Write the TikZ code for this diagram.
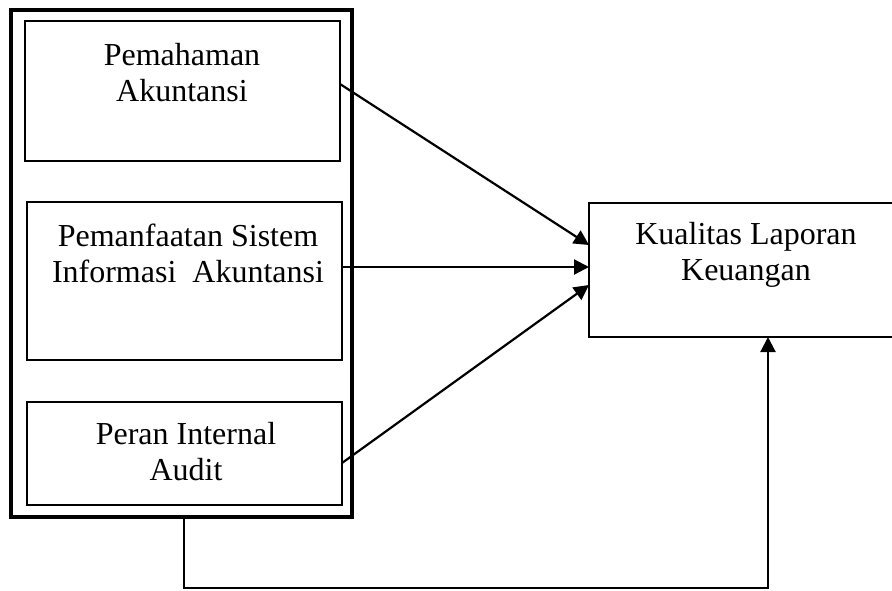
\documentclass[tikz,border=0pt]{standalone}
\usepackage{fontspec}
\setmainfont{Liberation Serif}
\usetikzlibrary{arrows.meta, calc}

\tikzset{
  box/.style={draw, line width=1.8pt, inner sep=0pt, outer sep=0pt},
  txt/.style={align=center, inner sep=0pt, font=\fontsize{32}{36}\selectfont},
  arr/.style={line width=2.2pt, -{Triangle[length=15pt, width=15pt]}}
}

\begin{document}
\begin{tikzpicture}[x=1pt, y=-1pt]
            \useasboundingbox (0,0) rectangle (892,590);
            % Outer frame around the three independent variables
            \node[box, line width=4.5pt, minimum width=341pt, minimum height=507pt] (outer) at (181.5,263.5) {};
            
            % Independent variables
            \node[box, minimum width=315pt, minimum height=140pt] (pemahaman) at (182.5,91) {};
            \node[box, minimum width=315pt, minimum height=158pt] (sia) at (184.5,281) {};
            \node[box, minimum width=315pt, minimum height=103pt] (audit) at (184.5,453.5) {};
            \node[txt] (tpemahaman) at (182,72.5) {Pemahaman\\Akuntansi};
            \node[txt] (tsia) at (188,253.5) {Pemanfaatan Sistem\\Informasi\ \ Akuntansi};
            \node[txt] (taudit) at (186,451.5) {Peran Internal\\Audit};
            
            % Dependent variable (runs past the right edge)
            \node[box, minimum width=316pt, minimum height=134pt] (kualitas) at (747,270) {};
            \node[txt] (tkualitas) at (746,254.5) {Kualitas Laporan\\Keuangan};
            
            % Partial effects
            \draw[arr] ([yshift=7pt]pemahaman.east) -- ([yshift=25pt]kualitas.west);
            \draw[arr] ([yshift=14pt]sia.east) -- ([yshift=3pt]kualitas.west);
            \draw[arr] ([yshift=-9.5pt]audit.east) -- ([yshift=-15pt]kualitas.west);
            
            % Simultaneous effect
            \coordinate (fbl) at (184,588);
            \coordinate (fbr) at (768,588);
            \draw[arr] (outer.south -| fbl) -- (fbl) -- (fbr) -- (kualitas.south -| fbr);
        \end{tikzpicture}
\end{document}
